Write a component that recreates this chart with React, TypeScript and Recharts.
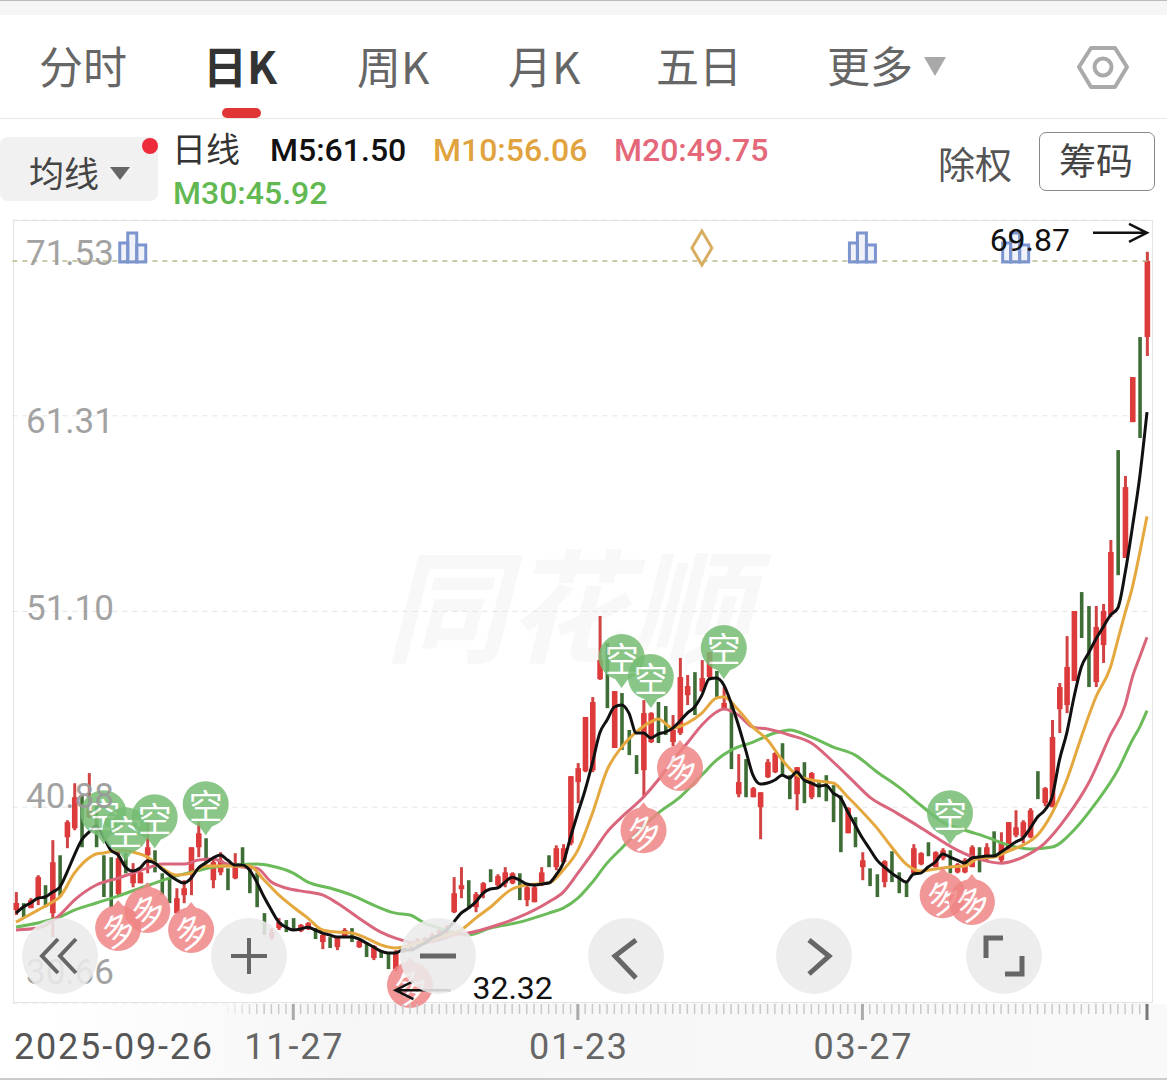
import React from "react";
import { ComposedChart, Bar, Line, XAxis, YAxis, CartesianGrid, ReferenceDot, ReferenceLine } from "recharts";

const highs = [36.45,35.87,36.13,37.33,36.81,39.16,38.37,40.20,42.13,41.50,
42.66,40.98,38.37,38.27,38.63,38.48,37.96,37.48,40.10,38.63,
37.43,37.17,36.65,37.07,38.79,40.10,39.26,38.27,38.53,37.69,
38.48,38.79,37.85,37.48,35.35,34.57,35.09,34.99,35.09,34.78,
34.88,34.57,34.26,34.10,34.10,34.57,34.57,33.95,33.84,33.68,
33.42,33.27,33.42,33.58,33.84,34.05,34.10,34.31,34.57,34.73,
37.23,37.75,37.07,36.45,36.97,37.64,37.38,37.75,37.48,37.43,
36.91,36.91,37.75,38.37,38.89,38.95,42.50,43.18,45.59,46.63,
50.86,49.45,46.94,46.84,44.91,43.60,46.47,45.84,46.37,46.16,
45.69,48.67,47.78,47.93,48.56,48.98,47.99,47.15,46.32,43.65,
43.39,41.93,41.66,43.39,43.75,44.22,42.55,42.97,43.23,42.71,
42.19,42.55,42.03,41.50,40.88,40.36,38.53,37.69,37.38,38.11,
38.58,37.48,36.97,38.95,38.53,39.05,38.58,38.74,38.63,37.96,
38.22,38.89,38.79,39.00,39.62,39.57,40.10,40.72,40.20,40.83,
42.76,41.93,45.43,47.36,49.81,51.12,52.11,51.38,51.38,51.49,
54.83,59.52,58.17,63.33,65.42,69.87];

const lows = [35.25,35.14,35.61,35.77,35.66,34.10,36.19,38.74,39.68,38.79,
40.31,38.79,36.19,35.66,36.29,37.43,36.70,36.91,37.43,37.48,
36.29,35.87,35.35,35.87,36.29,38.27,37.96,36.65,37.33,36.55,
37.12,37.85,36.39,35.66,34.21,33.95,34.47,34.36,34.42,34.36,
34.47,34.00,33.47,33.53,33.42,34.05,33.84,33.53,33.06,32.90,
33.01,32.43,32.32,33.27,33.47,33.58,33.68,33.79,34.10,34.21,
35.35,36.13,35.61,35.40,36.13,36.97,36.70,36.70,36.86,36.03,
35.71,35.92,36.76,37.75,37.59,37.96,38.89,41.09,42.71,42.71,
47.52,46.05,43.97,43.87,43.60,42.61,41.40,44.23,44.23,44.65,
44.07,44.65,46.21,45.69,46.89,47.62,46.63,45.95,42.87,41.40,
41.40,41.40,39.21,42.40,42.66,42.55,41.30,40.72,41.09,41.30,
41.40,41.19,40.10,38.53,39.52,38.79,37.07,36.76,36.19,36.70,
36.97,36.39,36.19,37.33,37.85,38.32,37.75,38.11,37.43,37.43,
37.43,37.75,37.48,38.06,38.37,38.01,38.63,39.31,39.00,39.26,
41.30,40.93,40.88,44.75,45.79,47.47,49.71,47.15,47.15,48.41,
50.81,52.99,53.89,60.98,60.15,64.43];

const opens = [35.51,35.87,35.61,36.13,36.81,35.35,38.37,39.31,39.78,41.50,
40.36,40.98,38.37,38.27,36.34,38.48,36.91,36.91,38.37,38.63,
37.43,37.17,35.35,36.29,37.43,38.79,39.26,37.07,37.48,37.69,
37.17,38.79,37.85,37.48,35.35,34.10,34.57,34.99,35.09,34.42,
34.57,34.57,33.84,34.10,33.58,34.10,34.57,33.58,33.84,33.01,
33.42,33.27,32.43,33.32,33.58,33.68,33.79,33.89,34.21,34.31,
35.40,36.60,37.07,35.66,36.39,37.64,36.81,36.91,36.91,37.43,
36.03,35.92,36.81,38.37,37.75,38.01,39.00,42.19,42.76,42.81,
47.57,49.45,43.97,46.84,44.91,43.60,42.81,44.28,46.37,46.16,
44.28,44.75,46.73,47.93,46.94,47.67,47.99,46.05,46.32,41.56,
43.39,41.40,40.88,42.45,42.71,44.22,42.55,41.56,43.23,41.40,
42.19,42.55,42.03,41.50,39.52,40.36,37.75,37.69,37.38,36.97,
38.58,37.48,36.97,37.43,37.90,39.05,37.75,38.22,38.63,37.48,
37.48,37.75,38.79,38.27,39.62,38.11,38.74,39.41,39.31,39.31,
42.76,41.09,40.88,46.00,46.21,47.47,52.11,51.38,47.41,49.34,
50.91,59.52,53.89,60.98,65.42,65.42];

const closes = [35.88,35.14,36.03,37.23,35.66,38.01,36.19,40.10,41.40,38.79,
40.88,38.79,36.19,35.66,38.22,37.43,37.48,37.48,38.79,37.48,
36.29,35.87,36.13,36.65,38.79,39.52,37.96,38.01,38.11,36.55,
37.96,37.85,36.39,35.66,34.21,34.36,34.88,34.36,34.42,34.73,
34.83,34.00,34.21,33.53,34.05,34.47,33.84,33.89,33.06,33.63,
33.01,32.43,33.32,33.58,33.79,33.95,34.05,34.21,34.47,34.62,
36.39,36.81,35.61,36.34,36.91,36.97,37.28,37.48,37.43,36.03,
36.70,36.70,37.48,37.75,38.74,38.74,42.50,42.92,45.59,46.37,
48.56,46.05,46.94,43.87,43.60,42.61,45.79,45.79,44.23,44.65,
44.91,47.67,47.20,45.69,47.62,48.98,46.63,46.32,42.87,42.19,
41.40,41.87,41.66,43.23,43.70,42.55,41.30,42.97,41.09,42.66,
41.40,41.19,40.10,38.53,40.83,38.79,38.11,36.76,36.19,38.06,
36.97,36.39,36.19,38.74,38.48,38.32,38.53,38.63,37.43,37.90,
38.11,38.79,37.48,38.79,38.37,39.05,40.10,39.83,40.10,40.72,
41.30,41.87,44.54,47.15,48.20,51.12,49.71,47.15,50.29,51.12,
54.20,52.99,57.59,63.33,60.15,69.39];

const m5 = [35.35,35.67,35.88,36.13,36.19,36.45,36.71,37.49,38.38,39.17,
39.58,39.90,39.32,38.64,38.38,37.76,37.55,37.71,38.07,37.97,
37.65,37.34,37.08,36.92,37.18,37.71,37.97,38.23,38.38,38.12,
37.86,37.86,37.60,36.97,36.19,35.51,34.89,34.62,34.47,34.52,
34.62,34.47,34.31,34.21,34.10,34.10,34.10,34.00,33.79,33.58,
33.37,33.27,33.27,33.42,33.42,33.58,33.79,34.05,34.21,34.47,
34.89,35.35,35.61,35.93,36.40,36.61,36.66,36.97,37.23,37.08,
36.87,36.82,36.87,36.92,37.34,37.97,39.32,40.58,41.78,43.19,
44.75,45.43,46.11,46.21,45.79,44.75,44.75,44.49,44.70,44.80,
45.01,45.38,45.79,46.11,46.73,47.57,47.62,47.26,46.32,45.17,
43.86,42.55,42.09,42.14,42.30,42.55,42.40,42.72,42.30,42.14,
41.98,42.03,41.62,41.36,40.63,39.95,39.27,38.70,38.12,37.76,
37.44,37.18,36.97,37.39,37.44,37.76,38.02,38.44,38.28,38.12,
37.97,38.23,38.28,38.33,38.33,38.54,38.80,39.06,39.27,39.79,
40.37,40.73,41.41,43.34,44.75,46.63,48.20,48.93,49.66,50.29,
50.91,51.28,53.10,55.50,58.11,61.50];

// moving averages at these candles; the library joins them
const m10Read: [number, number][] = [[0,34.88],[3,35.51],[5,35.93],[6,36.19],[8,37.44],[10,38.23],[11,38.44],[12,38.49],[14,38.64],[16,38.54],[18,38.28],[20,37.71],[22,37.34],[24,37.44],[26,37.81],[28,37.81],[30,37.81],[32,37.81],[34,37.08],[36,36.30],[38,35.67],[40,35.09],[42,34.47],[44,34.36],[46,34.31],[48,34.05],[50,33.69],[52,33.53],[55,33.79],[58,34.10],[61,34.47],[63,35.09],[65,35.66],[68,36.61],[70,36.82],[73,36.92],[75,37.60],[77,38.64],[79,40.57],[81,42.82],[83,44.02],[85,44.80],[87,45.33],[88,45.48],[90,45.01],[92,45.27],[94,45.79],[96,46.58],[97,46.63],[99,45.95],[101,45.06],[103,44.39],[105,43.34],[107,42.56],[109,42.30],[112,42.14],[114,41.41],[116,40.63],[118,39.79],[120,38.80],[122,37.91],[124,37.55],[126,37.65],[128,37.76],[130,37.81],[132,38.23],[134,38.28],[136,38.59],[138,38.90],[140,39.43],[142,40.58],[144,42.30],[146,44.55],[148,46.63],[150,48.20],[151,49.61],[152,51.02],[153,52.37],[154,54.15],[155,56.06]];
const m20Read: [number, number][] = [[0,34.47],[3,34.57],[6,35.25],[8,36.03],[11,36.82],[14,37.18],[16,37.44],[18,37.70],[20,37.91],[23,37.91],[25,38.12],[27,38.17],[29,37.91],[31,37.76],[33,37.70],[35,36.97],[37,36.66],[40,36.45],[42,36.30],[44,35.88],[47,35.09],[50,34.36],[52,34.05],[55,33.79],[58,33.95],[60,34.21],[62,34.31],[66,34.73],[69,35.15],[73,35.93],[75,36.45],[77,37.44],[79,38.48],[81,39.58],[83,40.36],[86,41.41],[88,42.30],[90,43.34],[92,44.23],[94,45.17],[96,45.85],[97,46.00],[99,45.69],[101,45.06],[103,44.96],[106,44.65],[109,44.23],[112,43.24],[115,42.14],[117,41.41],[120,40.73],[123,40.05],[126,39.32],[129,38.64],[132,38.17],[135,37.96],[138,38.28],[141,39.01],[144,40.37],[147,42.14],[150,44.65],[152,46.21],[153,47.67],[154,48.72],[155,49.75]];
const m30Read: [number, number][] = [[0,34.63],[3,34.84],[6,35.15],[8,35.51],[11,35.88],[14,36.24],[17,36.66],[19,36.92],[21,37.18],[24,37.49],[27,37.75],[30,37.86],[33,37.91],[35,37.81],[38,37.44],[40,36.97],[43,36.66],[46,36.29],[49,35.77],[52,35.35],[54,35.25],[56,34.83],[59,34.47],[62,34.21],[65,34.57],[69,34.88],[73,35.35],[75,35.61],[77,36.13],[79,36.97],[81,37.96],[83,38.74],[85,39.53],[88,40.57],[91,41.41],[94,42.56],[96,43.34],[98,43.86],[101,44.28],[104,44.75],[106,44.91],[109,44.54],[112,44.02],[115,43.60],[118,42.72],[121,41.93],[124,40.98],[127,40.10],[130,39.69],[133,39.32],[136,38.90],[139,38.70],[142,38.80],[145,39.69],[148,41.10],[151,42.82],[153,44.39],[154,45.06],[155,45.92]];

const axisTicks = [71.53, 61.31, 51.10, 40.88, 30.66];
const dateLabels: Record<number, string> = { 0: "2025-09-26", 38: "11-27", 77: "01-23", 116: "03-27" };
const majorTicks = [38, 77, 116, 155];
const shortSignals: [number, number][] = [[12,40.57],[15,39.68],[19,40.36],[26,41.04],[83,48.72],[87,47.67],[97,49.19],[128,40.57]];
const longSignals: [number, number][] = [[14,34.57],[18,35.51],[24,34.47],[54,31.60],[86,39.68],[91,42.92],[127,36.29],[131,35.93]];
const eventBars = [16, 116, 137];
const eventDiamonds = [94];

const lookup = (pairs: [number, number][]) => new Map(pairs);
const m10Map = lookup(m10Read), m20Map = lookup(m20Read), m30Map = lookup(m30Read);
const table = highs.map((h, i) => ({
  idx: i, high: h, low: lows[i], open: opens[i], close: closes[i], m5: m5[i],
  m10: m10Map.get(i) ?? null, m20: m20Map.get(i) ?? null, m30: m30Map.get(i) ?? null,
}));

const RED = "#dd3b3b", GREEN = "#3f6d36";
const CJK = '"Noto Sans CJK SC", "Noto Sans", sans-serif';
const NUM = 'Roboto, "Noto Sans", sans-serif';

const Candle = (p: any) => {
  const { x, y, width, height, payload } = p;
  const cx = x + width / 2;
  const unit = height / (payload.high - payload.low || 1);
  const up = payload.close >= payload.open;
  const top = y + (payload.high - Math.max(payload.open, payload.close)) * unit;
  const bh = Math.max(Math.abs(payload.open - payload.close) * unit, 1);
  if (!up) return <rect x={cx - 1.8} y={y} width={3.6} height={height} fill={GREEN} />;
  return (
    <g>
      <rect x={cx - 1.5} y={y} width={3} height={height} fill="#d24444" />
      <rect x={cx - 2.8} y={top} width={5.6} height={bh} fill={RED} />
    </g>
  );
};

const YTick = (p: any) => {
  const shift: Record<number, number> = { 71.53: 33, 61.31: 6, 51.1: -3, 40.88: -11, 30.66: -31 };
  return (
    <text x={26} y={p.y + (shift[p.payload.value] ?? 0)} dominantBaseline="central" fontFamily={NUM} fontSize={35} fill="#999" opacity={0.9}>
      {p.payload.value.toFixed(2)}
    </text>
  );
};

const XTick = (p: any) => {
  const i = p.payload.value as number;
  const major = majorTicks.includes(i);
  const label = dateLabels[i];
  return (
    <g>
      {i >= 29 && (major
        ? <rect x={p.x - 1.5} y={p.y + 1} width={3} height={16} fill={i === 155 ? "#777" : "#aaa"} />
        : <rect x={p.x - 0.75} y={p.y + 1} width={1.5} height={10} fill="#c9c9c9" opacity={Math.min(1, (i - 28) / 6)} />)}
      {label && (
        <text x={i === 0 ? 14 : p.x + 1} y={p.y + 44} dominantBaseline="central" textAnchor={i === 0 ? "start" : "middle"}
          fontFamily={NUM} fontWeight={400} fontSize={36} letterSpacing={1.8} fill={i === 0 ? "#555" : "#666"}>{label}</text>
      )}
    </g>
  );
};

const Pin = (p: any) => {
  const { cx, cy, kind } = p;
  const short = kind === "short";
  const fill = short ? "#76bd74" : "#f08585";
  const tip = short ? 31 : -28;
  return (
    <g opacity={0.85}>
      <circle cx={cx} cy={cy} r={23} fill={fill} />
      <path d={`M${cx - 9} ${cy + tip * 0.6} L${cx} ${cy + tip} L${cx + 9} ${cy + tip * 0.6} Z`} fill={fill} />
      <text x={cx} y={cy} textAnchor="middle" dominantBaseline="central" fontFamily={CJK} fontSize={34} fill="#fff"
        transform={short ? undefined : `rotate(-25 ${cx} ${cy})`}>{short ? "空" : "多"}</text>
    </g>
  );
};

const BarIcon = (p: any) => {
  const { cx, cy } = p;
  const s = "#7d95cf";
  return (
    <g fill="rgba(125,149,207,0.12)" stroke={s} strokeWidth={3}>
      <rect x={cx - 13} y={cy - 5} width={8} height={19} />
      <rect x={cx - 5} y={cy - 15} width={9} height={29} />
      <rect x={cx + 4} y={cy - 3} width={9} height={17} />
    </g>
  );
};
const Diamond = (p: any) => {
  const { cx, cy } = p;
  return <path d={`M${cx} ${cy - 17} L${cx + 10} ${cy} L${cx} ${cy + 17} L${cx - 10} ${cy} Z`} fill="none" stroke="#d8ae62" strokeWidth={3} />;
};

const HighNote = (p: any) => {
  const { cx, cy } = p;
  return (
    <g>
      <text x={cx - 77} y={cy - 12} textAnchor="end" dominantBaseline="central" fontFamily={NUM} fontSize={32} fill="#111">69.87</text>
      <path d={`M${cx - 54} ${cy - 19} H${cx} M${cx - 18} ${cy - 28} L${cx} ${cy - 19} L${cx - 18} ${cy - 10}`} fill="none" stroke="#111" strokeWidth={2.4} />
    </g>
  );
};
const LowNote = (p: any) => {
  const { cx, cy } = p;
  return (
    <g>
      <text x={cx + 77} y={cy + 17} dominantBaseline="central" fontFamily={NUM} fontSize={32} fill="#111">32.32</text>
      <path d={`M${cx + 55} ${cy + 19} H${cx} M${cx + 18} ${cy + 10} L${cx} ${cy + 19} L${cx + 18} ${cy + 28}`} fill="none" stroke="#111" strokeWidth={2.4} />
    </g>
  );
};

const T = ({ x, y, size, color, children, weight, font }: any) => (
  <div style={{ position: "absolute", left: x, top: y - size * 0.6, fontSize: size, lineHeight: `${size * 1.2}px`, color, fontWeight: weight ?? 400, fontFamily: font ?? CJK, whiteSpace: "nowrap" }}>{children}</div>
);

const buttonCenters = [60, 249, 438, 626, 814, 1004];
const Buttons = () => (
  <svg width={1167} height={1080} style={{ position: "absolute", left: 0, top: 0, pointerEvents: "none" }}>
    {buttonCenters.map((cx) => <circle key={cx} cx={cx} cy={956} r={38} fill="rgba(234,234,234,0.88)" />)}
    <g fill="none" stroke="#666" strokeWidth={4}>
      <path d="M58 939 L42 956 L58 973 M76 939 L60 956 L76 973" />
      <path d="M231 956 H267 M249 938 V974" />
      <path d="M420 956 H456" strokeWidth={5} />
      <path d="M636 940 L615 956 L636 978" strokeWidth={5} />
      <path d="M809 940 L829 956 L809 974" strokeWidth={5} />
      <path d="M986 958 V938 H1003 M1022 956 V974 H1005" strokeWidth={5} />
    </g>
  </svg>
);

export default function App() {
  return (
    <div style={{ position: "absolute", left: 0, top: 0, width: 1167, height: 1080, background: "#fff", overflow: "hidden" }}>
      {/* header */}
      <div style={{ position: "absolute", left: 0, top: 0, width: 1167, height: 1, background: "#bbb" }} />
      <div style={{ position: "absolute", left: 0, top: 1, width: 1167, height: 14, background: "#f5f5f5" }} />
      <T x={39} y={65} size={44} color="#666">分时</T>
      <T x={203} y={65} size={44} color="#333" weight={700}>日K</T>
      <T x={357} y={65} size={44} color="#666">周K</T>
      <T x={508} y={65} size={44} color="#666">月K</T>
      <T x={656} y={65} size={43} color="#666">五日</T>
      <T x={827} y={65} size={43} color="#666">更多</T>
      <div style={{ position: "absolute", left: 222, top: 108, width: 39, height: 10, borderRadius: 5, background: "#e03636" }} />
      <div style={{ position: "absolute", left: 0, top: 118, width: 1167, height: 1, background: "#e8e8e8" }} />
      <div style={{ position: "absolute", left: 0, top: 137, width: 158, height: 64, borderRadius: 8, background: "#f1f1f1" }} />
      <T x={29} y={172} size={35} color="#444">均线</T>
      <T x={172} y={148} size={34} color="#333">日线</T>
      <T x={270} y={150} size={32} color="#111" font={NUM} weight={500}>M5:61.50</T>
      <T x={433} y={150} size={32} color="#e0a33e" font={NUM} weight={500}>M10:56.06</T>
      <T x={614} y={150} size={32} color="#e4687a" font={NUM} weight={500}>M20:49.75</T>
      <T x={173} y={193} size={32} color="#62b851" font={NUM} weight={500}>M30:45.92</T>
      <T x={938} y={163} size={37} color="#555">除权</T>
      <div style={{ position: "absolute", left: 1039, top: 132, width: 114, height: 57, border: "1px solid #888", borderRadius: 7 }} />
      <T x={1059} y={159} size={37} color="#444">筹码</T>
      <svg width={1167} height={220} style={{ position: "absolute", left: 0, top: 0 }}>
        <path d="M924 57 H946 L935 76 Z" fill="#a8a8a8" />
        <path d="M110 167 H130 L120 180 Z" fill="#666" />
        <circle cx={150} cy={146} r={8} fill="#ee2b3b" />
        <path d="M1091 48 H1115 L1127 67 L1115 87 H1091 L1079 67 Z" fill="none" stroke="#aaa" strokeWidth={4} strokeLinejoin="round" />
        <circle cx={1103} cy={67} r={8.5} fill="none" stroke="#aaa" strokeWidth={4} />
      </svg>

      {/* watermark, frame, footer */}
      <div style={{ position: "absolute", left: 385, top: 530, fontSize: 122, lineHeight: "140px", fontFamily: CJK, fontWeight: 700, fontStyle: "italic", color: "#f8f8f8", whiteSpace: "nowrap" }}>同花顺</div>
      <div style={{ position: "absolute", left: 0, top: 1004, width: 1167, height: 74, background: "linear-gradient(to right, #fff 4%, #f6f6f6 30%, #f9f9f9 100%)" }} />
      <div style={{ position: "absolute", left: 0, top: 1078, width: 1167, height: 2, background: "#ccc" }} />
      <div style={{ position: "absolute", left: 13, top: 220, width: 1140, height: 783, border: "1px solid #e4e4e4", boxSizing: "border-box" }} />

      <div style={{ position: "absolute", left: 0, top: 0 }}>
        <ComposedChart width={1167} height={1080} data={table} margin={{ top: 220, right: 16.35, bottom: 0, left: 12.35 }} barCategoryGap={0}>
          <CartesianGrid vertical={false} stroke="#e4e4e4" strokeDasharray="5 5" />
          <XAxis dataKey="idx" type="category" interval={0} height={77} tickSize={0} tickMargin={0} axisLine={false} tick={<XTick />} />
          <YAxis type="number" mirror domain={[30.66, 71.53]} ticks={axisTicks} interval={0} width={60} axisLine={false} tickLine={false} tick={<YTick />} allowDataOverflow />
          <ReferenceLine y={69.39} stroke="#b9b98a" strokeDasharray="5 5" strokeWidth={1.5} />
          <Bar dataKey={(d: any) => [d.low, d.high]} shape={<Candle />} isAnimationActive={false} barSize={6} />
          {shortSignals.map(([i, v]) => <ReferenceDot key={`s${i}`} x={i} y={v} ifOverflow="visible" shape={<Pin kind="short" />} />)}
          {longSignals.map(([i, v]) => <ReferenceDot key={`l${i}`} x={i} y={v} ifOverflow="visible" shape={<Pin kind="long" />} />)}
          {eventBars.map((i) => <ReferenceDot key={`b${i}`} x={i} y={70.07} ifOverflow="visible" shape={<BarIcon />} />)}
          {eventDiamonds.map((i) => <ReferenceDot key={`d${i}`} x={i} y={70.07} ifOverflow="visible" shape={<Diamond />} />)}
          <Line dataKey="m30" type="monotone" connectNulls dot={false} stroke="#6cbb5a" strokeWidth={3} isAnimationActive={false} />
          <Line dataKey="m20" type="monotone" connectNulls dot={false} stroke="#d9667c" strokeWidth={3} isAnimationActive={false} />
          <Line dataKey="m10" type="monotone" connectNulls dot={false} stroke="#e5a83f" strokeWidth={3} isAnimationActive={false} />
          <Line dataKey="m5" type="monotone" dot={false} stroke="#111" strokeWidth={3} isAnimationActive={false} />
          <ReferenceDot x={155} y={69.87} ifOverflow="visible" shape={<HighNote />} />
          <ReferenceDot x={52} y={32.32} ifOverflow="visible" shape={<LowNote />} />
        </ComposedChart>
      </div>
      <Buttons />
    </div>
  );
}
